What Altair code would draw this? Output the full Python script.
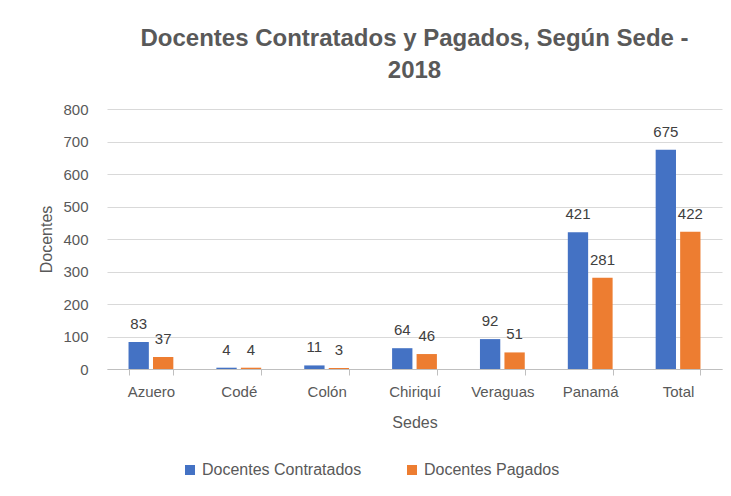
import altair as alt
import pandas as pd

sedes = ["Azuero", "Codé", "Colón", "Chiriquí", "Veraguas", "Panamá", "Total"]
contratados = [83, 4, 11, 64, 92, 421, 675]
pagados = [37, 4, 3, 46, 51, 281, 422]
series = ["Docentes Contratados", "Docentes Pagados"]
colors = ["#4472C4", "#ED7D31"]

rows = []
for s, c, p in zip(sedes, contratados, pagados):
    rows.append({"Sede": s, "Serie": series[0], "Valor": c})
    rows.append({"Sede": s, "Serie": series[1], "Valor": p})
df = pd.DataFrame(rows)

FONT = "Liberation Sans"
GREY = "#595959"

base = alt.Chart(df).encode(
    x=alt.X("Sede:N", sort=sedes, title="Sedes",
            scale=alt.Scale(paddingInner=0.49, paddingOuter=0.245),
            axis=alt.Axis(labelAngle=0, tickBand="extent", grid=False,
                          domainColor="#bfbfbf", tickColor="#bfbfbf", tickSize=6,
                          labelPadding=9, labelFontSize=15, labelColor=GREY,
                          titleFontSize=16, titleColor=GREY, titleFontWeight="normal",
                          titlePadding=15, labelFont=FONT, titleFont=FONT)),
    xOffset=alt.XOffset("Serie:N", sort=series, scale=alt.Scale(paddingInner=0.17)),
    y=alt.Y("Valor:Q", title="Docentes",
            scale=alt.Scale(domain=[0, 800]),
            axis=alt.Axis(values=list(range(0, 801, 100)), domain=False, ticks=False,
                          gridColor="#d9d9d9", labelPadding=19, labelFontSize=15,
                          labelColor=GREY, titleFontSize=16, titleColor=GREY,
                          titleFontWeight="normal", titlePadding=8,
                          labelFont=FONT, titleFont=FONT)),
)

bars = base.mark_bar().encode(
    color=alt.Color("Serie:N", sort=series,
                    scale=alt.Scale(domain=series, range=colors),
                    legend=alt.Legend(title=None, orient="none", direction="horizontal",
                                      legendX=75, legendY=353, symbolType="square",
                                      symbolSize=100, symbolStrokeWidth=0,
                                      labelFontSize=16, labelColor=GREY, labelFont=FONT,
                                      columnPadding=42))
)

text = base.mark_text(dy=-18, fontSize=15, color="#404040", font=FONT).encode(
    text="Valor:Q"
)

chart = alt.layer(bars, text).properties(
    width=615, height=260,
    title=alt.TitleParams(["Docentes  Contratados y  Pagados, Según Sede -", "2018"],
                          fontSize=24, font=FONT, fontWeight="bold", color=GREY,
                          anchor="middle", offset=19, lineHeight=32),
    autosize=alt.AutoSizeParams(type="none"),
    padding={"left": 99, "top": 101, "right": 1, "bottom": 119},
).configure_view(stroke=None)

chart.save("out.html", embed_options={"renderer": "svg", "actions": False})
